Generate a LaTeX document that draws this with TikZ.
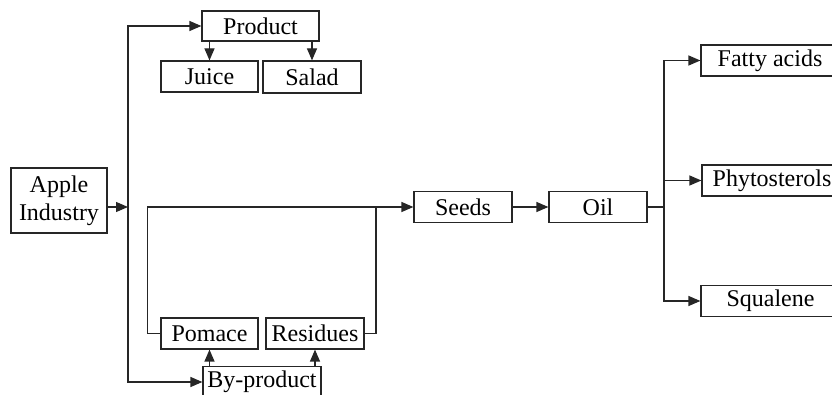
\documentclass[tikz,border=0pt]{standalone}
\usepackage{fontspec}
\setmainfont{Liberation Serif}
\usetikzlibrary{arrows.meta}

\tikzset{
  box/.style={draw=black!85, line width=0.9pt, inner sep=0pt, align=center,
    minimum width=97*0.75pt, minimum height=31*0.75pt,
    font=\fontsize{18}{21}\selectfont},
  link/.style={draw=black!85, line width=0.9pt},
  tip/.style={link, -{Triangle[length=9pt,width=7.5pt]}}
}

\begin{document}
\begin{tikzpicture}[x=0.75pt,y=0.75pt,yscale=-1,xscale=1]
\useasboundingbox (0,0) rectangle (832,395);
\clip (0,0) rectangle (832,395);

% Boxes
\node[box, minimum width=96*0.75pt, minimum height=65*0.75pt] (apple) at (59,200.5) {Apple\\Industry};
\node[box, minimum width=117*0.75pt, minimum height=30*0.75pt] (product) at (260.5,26) {Product};
\node[box] (juice) at (209.5,76.5) {Juice};
\node[box, minimum width=98*0.75pt, minimum height=32*0.75pt] (salad) at (312,77) {Salad};
\node[box] (pomace) at (209.5,333.5) {Pomace};
\node[box, minimum width=98*0.75pt] (residues) at (315,333.5) {Residues};
\node[box, minimum width=118*0.75pt] (byproduct) at (262,382) {By-product};
\node[box, minimum width=98*0.75pt] (seeds) at (463,207) {Seeds};
\node[box, minimum width=98*0.75pt] (oil) at (598,207) {Oil};
\node[box, minimum width=138*0.75pt] (fatty) at (770,60.5) {Fatty acids};
\node[box, minimum width=140*0.75pt] (phyto) at (772,180.5) {Phytosterols};
\node[box, minimum width=139*0.75pt] (squalene) at (770.5,301) {Squalene};

% Junction points
\coordinate (trunk) at (128,207);
\coordinate (merge) at (376,207);
\coordinate (split) at (664,207);

% Apple industry to product / by-product
\draw[tip] (apple.east |- trunk) -- (trunk);
\draw[tip] (trunk) |- (product.west);
\draw[tip] (trunk) |- (byproduct.west);
\draw[tip] (product.south -| juice) -- (juice.north);
\draw[tip] (product.south -| salad) -- (salad.north);
\draw[tip] (byproduct.north -| pomace) -- (pomace.south);
\draw[tip] (byproduct.north -| residues) -- (residues.south);

% By-product loop to seeds
\draw[link] (pomace.west) -- ++(-13,0) |- (merge);
\draw[link] (residues.east) -| (merge);
\draw[tip] (merge) -- (seeds.west);
\draw[tip] (seeds) -- (oil);

% Oil components
\draw[link] (oil.east) -- (split);
\draw[tip] (split) |- (fatty.west);
\draw[tip] (split) |- (phyto.west);
\draw[tip] (split) |- (squalene.west);

\end{tikzpicture}
\end{document}
